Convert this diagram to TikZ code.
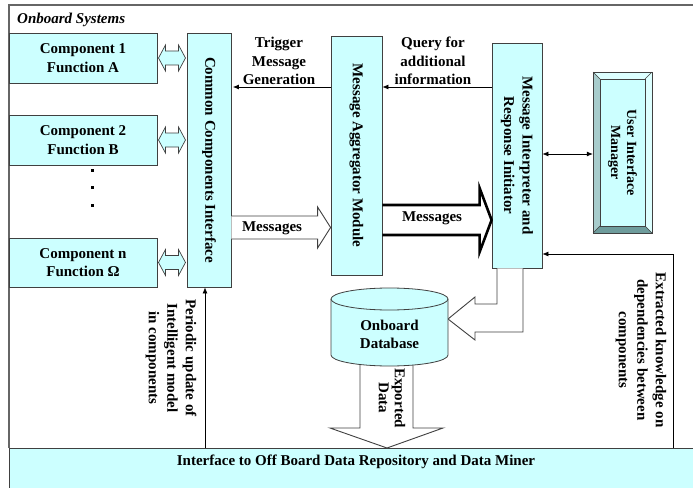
\documentclass[tikz,border=0pt]{standalone}
\usepackage{fontspec}
\setmainfont{Liberation Serif}
\usetikzlibrary{arrows.meta,calc}
\definecolor{cyfill}{HTML}{CCFFFF}
\definecolor{bord}{HTML}{404040}
\definecolor{bevdark}{HTML}{6E9C9C}
\definecolor{bevmid}{HTML}{A8CCCC}
\definecolor{bevlight}{HTML}{DDFFFF}
\begin{document}
\begin{tikzpicture}[x=1pt,y=-1pt,
  box/.style={draw=bord, fill=cyfill, line width=0.8pt, inner sep=0pt},
  txt/.style={font=\bfseries\fontsize{15}{18.5}\selectfont, align=center, inner sep=0pt},
  vtxt/.style={txt, rotate=-90},
  conn/.style={draw=black, line width=0.7pt},
  tip/.style={-{Latex[length=6pt,width=5pt]}},
  hollow/.style={draw=bord, fill=white, line width=0.9pt, line join=miter},
  dbl/.pic={\filldraw[fill=cyfill, draw=bord, line width=0.7pt, line join=miter]
     (-13.5,0) -- (-6.5,-13) -- (-6.5,-7) -- (6.5,-7) -- (6.5,-13) -- (13.5,0)
     -- (6.5,13) -- (6.5,7) -- (-6.5,7) -- (-6.5,13) -- cycle;}
]
\useasboundingbox (0,0) rectangle (693,487);

% frame
\draw[bord!80, line width=1.2pt] (9,448) -- (9,5) -- (700,5);
\node[txt, font=\bfseries\itshape\fontsize{15}{18}\selectfont, anchor=west] (os) at (17,20) {Onboard Systems};

% bottom interface box
\node[box, minimum width=700, minimum height=50, anchor=north west] (ib) at (9,448) {};
\node[txt] (ibt) at (356,462) {Interface to Off Board Data Repository and Data Miner};

% components
\node[box, txt, minimum width=148, minimum height=50] (c1) at (83,58) {Component 1\\Function A};
\node[box, txt, minimum width=148, minimum height=50] (c2) at (83,140) {Component 2\\Function B};
\node[box, txt, minimum width=148, minimum height=49] (cn) at (83,262.5) {Component n\\Function Ω};
\fill (90.5,168.5) rectangle ++(3,3);
\fill (90.5,186) rectangle ++(3,3);
\fill (90.5,203.5) rectangle ++(3,3);

% common components interface
\node[box, minimum width=44, minimum height=254] (cci) at (209,160) {};
\node[vtxt] (ccit) at (cci.center) {Common Components Interface};

% message aggregator
\node[box, minimum width=51, minimum height=239] (ma) at (356.5,155.5) {};
\node[vtxt] (mat) at (ma.center) {Message Aggregator Module};

% message interpreter
\node[box, minimum width=50, minimum height=225] (mi) at (517,155.5) {};
\node[vtxt] (mit) at (mi.center) {Message Interpreter and\\Response Initiator};

% user interface manager (bevelled)
\node[inner sep=0pt, minimum width=59, minimum height=161] (uim) at (622.5,152.5) {};
\fill[cyfill] (600,79) rectangle (645,226);
\fill[bevlight] (593,72) -- (652,72) -- (645,79) -- (600,79) -- cycle;
\fill[bevlight] (652,72) -- (652,233) -- (645,226) -- (645,79) -- cycle;
\fill[bevmid] (593,72) -- (600,79) -- (600,226) -- (593,233) -- cycle;
\fill[bevdark] (593,233) -- (652,233) -- (645,226) -- (600,226) -- cycle;
\draw[bord, line width=0.8pt] (593,72) rectangle (652,233);
\draw[bord, line width=0.6pt] (600,79) rectangle (645,226);
\draw[bord, line width=0.6pt] (593,72) -- (600,79) (652,72) -- (645,79)
   (593,233) -- (600,226) (652,233) -- (645,226);
\node[vtxt, font=\bfseries\fontsize{14}{16}\selectfont] (uimt) at (622.5,152.5) {User Interface\\Manager};

% double arrows components <-> interface
\pic at ($(c1.east)!0.5!(cci.west |- c1.east)$) {dbl};
\pic at ($(c2.east)!0.5!(cci.west |- c2.east)$) {dbl};
\pic at ($(cn.east)!0.5!(cci.west |- cn.east)$) {dbl};

% thin arrows at top
\coordinate (yq) at (0,87);
\draw[conn, tip, shorten >=1.5pt] (ma.west |- yq) -- (cci.east |- yq);
\draw[conn, tip] (mi.west |- yq) -- (ma.east |- yq);
\node[txt] (trig) at (279,61) {Trigger\\Message\\Generation};
\node[txt] (qry) at (433,61) {Query for\\additional\\information};

% hollow Messages arrow
\coordinate (m1) at (0,227.5);
\coordinate (a1) at (cci.east |- m1);
\coordinate (b1) at (ma.west |- m1);
\filldraw[hollow] ($(a1)+(0,-11.5)$) -- ($(b1)+(-13,-11.5)$) -- ($(b1)+(-13,-20.5)$) -- (b1)
   -- ($(b1)+(-13,20.5)$) -- ($(b1)+(-13,11.5)$) -- ($(a1)+(0,11.5)$);
\node[txt] (msg1) at (272,228) {Messages};

% bold Messages arrow
\coordinate (m2) at (0,220);
\coordinate (a2) at (ma.east |- m2);
\coordinate (b2) at (mi.west |- m2);
\draw[black, line width=2.6pt, line join=miter] ($(a2)+(0,-15)$) -- ($(b2)+(-12,-15)$) -- ($(b2)+(-12,-32)$) -- (b2)
   -- ($(b2)+(-12,32)$) -- ($(b2)+(-12,15)$) -- ($(a2)+(0,15)$);
\node[txt] (msg2) at (432,218) {Messages};

% double arrow MI <-> UIM
\coordinate (yu) at (0,154);
\draw[conn, {Latex[length=6pt,width=5pt]}-{Latex[length=6pt,width=5pt]}] (mi.east |- yu) -- (uim.west |- yu);

% exported data arrow (under the cylinder)
\coordinate (xd) at (387,0);
\coordinate (tipx) at (ib.north -| xd);
\filldraw[hollow] ($(tipx)+(-27,-88)$) -- ($(tipx)+(-27,-20)$) -- ($(tipx)+(-57,-20)$) -- (tipx)
   -- ($(tipx)+(56,-20)$) -- ($(tipx)+(26,-20)$) -- ($(tipx)+(26,-88)$);
\node[vtxt, font=\bfseries\fontsize{15}{16}\selectfont] (exd) at (392,398) {Exported\\Data};

% bent arrow MI -> database
\filldraw[hollow] ($(mi.south)+(-20,0)$) -- (497,304) -- (475,304) -- (475,297) -- (448,319)
   -- (475,340) -- (475,332) -- (523,332) -- ($(mi.south)+(6,0)$);

% onboard database cylinder
\filldraw[fill=cyfill, draw=bord, line width=0.8pt] (331,299) -- (331,355)
   arc[start angle=180, end angle=360, x radius=58.5pt, y radius=11pt] -- (448,299)
   arc[start angle=0, end angle=180, x radius=58.5pt, y radius=11pt] -- cycle;
\draw[bord, line width=0.8pt] (331,299) arc[start angle=180, end angle=360, x radius=58.5pt, y radius=11pt];
\node[txt, font=\bfseries\fontsize{15}{18}\selectfont] (db) at (389.5,334) {Onboard\\Database};

% periodic update arrow
\coordinate (px) at (205,0);
\draw[conn, tip] (ib.north -| px) -- (cci.south -| px);
\node[vtxt] (per) at (171,358) {Periodic update of\\Intelligent model\\in components};

% extracted knowledge arrow
\coordinate (ex) at (673,254);
\draw[conn, tip] (ib.north -| ex) -- (ex) -- (mi.east |- ex);
\node[vtxt] (ext) at (641,350) {Extracted knowledge on\\dependencies between\\components};
\end{tikzpicture}
\end{document}
